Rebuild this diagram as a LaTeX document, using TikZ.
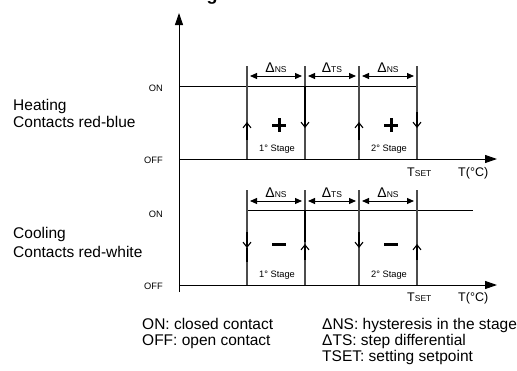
\documentclass[tikz,border=0pt]{standalone}
\usepackage{fontspec}
\setmainfont{Liberation Sans}
\usetikzlibrary{arrows.meta}
\newcommand\bigtxt{\fontsize{15.5}{16}\selectfont}
\newcommand\smalltxt{\fontsize{9.3}{10}\selectfont}
\newcommand\dimlab[1]{{\fontsize{14}{14}\selectfont Δ}{\fontsize{8.5}{8.5}\selectfont #1}}
\newcommand\tsetlab{{\fontsize{12.5}{13}\selectfont T}{\fontsize{8.5}{9}\selectfont SET}}
\begin{document}
\begin{tikzpicture}[x=1pt,y=-1pt,
  every node/.style={inner sep=0pt},
  axis/.style={line width=1pt,-{Triangle[length=12pt,width=8pt]}},
  onl/.style={line width=1pt},
  vline/.style={line width=1.1pt,draw=black!70},
  heavy/.style={line width=1.8pt},
  barb/.style={line width=1.1pt,-{Straight Barb[length=5pt,width=8pt]}},
  dim/.style={line width=1pt,{Triangle[length=7pt,width=6pt]}-{Triangle[length=7pt,width=6pt]}},
  sign/.style={line width=3pt}]
\useasboundingbox (0,0) rectangle (517,370);

% cropped title
\node[anchor=base] (title) at (212,0) {\fontsize{18}{18}\selectfont\bfseries g};

% axes
\coordinate (yb) at (179,292); \coordinate (yt) at (179,13);
\draw[axis] (yb) -- (yt);
\coordinate (h0) at (179,159); \coordinate (h1) at (497,159);
\draw[axis] (h0) -- (h1);
\coordinate (c0) at (179,285); \coordinate (c1) at (497,285);
\draw[axis] (c0) -- (c1);

% ---------- Heating ----------
\draw[onl] (179,86) -- (417,86);
\foreach \x in {247,305,359,417} \draw[vline] (\x,66) -- (\x,159);
\draw[heavy] (305,86) -- (305,126);
\draw[barb] (247,140) -- (247,122);
\draw[barb] (305,112) -- (305,128);
\draw[barb] (359,140) -- (359,122);
\draw[barb] (417,112) -- (417,128);
\draw[dim] (250,76) -- (302,76);
\draw[dim] (308,76) -- (356,76);
\draw[dim] (362,76) -- (414,76);
\node[anchor=base] (hd1) at (276,72) {\dimlab{NS}};
\node[anchor=base] (hd2) at (332,72) {\dimlab{TS}};
\node[anchor=base] (hd3) at (388,72) {\dimlab{NS}};
\draw[sign] (272,125) -- (286,125) (279,118) -- (279,132);
\draw[sign] (384,125) -- (398,125) (391,118) -- (391,132);
\node[anchor=base] (hs1) at (277,151) {\smalltxt 1° Stage};
\node[anchor=base] (hs2) at (389,151) {\smalltxt 2° Stage};
\node[anchor=base west] (ht) at (407,176.5) {\tsetlab};
\node[anchor=base west] (hT) at (458,176.5) {\fontsize{12.5}{13}\selectfont T(°C)};

% ---------- Cooling ----------
\draw[onl] (247,210) -- (473,210);
\foreach \x in {247,305,359,417} \draw[vline] (\x,190) -- (\x,285);
\draw[heavy] (305,210) -- (305,242);
\draw[heavy] (247,248) -- (247,262);
\draw[barb] (247,232) -- (247,248);
\draw[barb] (305,260) -- (305,244);
\draw[barb] (359,232) -- (359,248);
\draw[barb] (417,260) -- (417,244);
\draw[dim] (250,201) -- (302,201);
\draw[dim] (308,201) -- (356,201);
\draw[dim] (362,201) -- (414,201);
\node[anchor=base] (cd1) at (276,197) {\dimlab{NS}};
\node[anchor=base] (cd2) at (332,197) {\dimlab{TS}};
\node[anchor=base] (cd3) at (388,197) {\dimlab{NS}};
\draw[sign] (272,244) -- (286,244);
\draw[sign] (384,244) -- (398,244);
\node[anchor=base] (cs1) at (277,277) {\smalltxt 1° Stage};
\node[anchor=base] (cs2) at (389,277) {\smalltxt 2° Stage};
\node[anchor=base west] (ct) at (407,301.5) {\tsetlab};
\node[anchor=base west] (cT) at (458,301.5) {\fontsize{12.5}{13}\selectfont T(°C)};

% ---------- left labels ----------
\node[anchor=east] (on1) at (163,88) {\smalltxt ON};
\node[anchor=east] (off1) at (163,160) {\smalltxt OFF};
\node[anchor=east] (on2) at (163,214) {\smalltxt ON};
\node[anchor=east] (off2) at (163,286) {\smalltxt OFF};
\node[anchor=base west] (heat) at (13,110) {\bigtxt Heating};
\node[anchor=base west] (heatc) at (13,127) {\bigtxt Contacts red-blue};
\node[anchor=base west] (cool) at (13,238) {\bigtxt Cooling};
\node[anchor=base west] (coolc) at (13,257) {\bigtxt Contacts red-white};

% ---------- legend ----------
\node[anchor=base west] (l1) at (142,329) {\bigtxt ON: closed contact};
\node[anchor=base west] (l2) at (142,345) {\bigtxt OFF: open contact};
\node[anchor=base west] (l3) at (322,329) {\bigtxt ΔNS: hysteresis in the stage};
\node[anchor=base west] (l4) at (322,345) {\bigtxt ΔTS: step differential};
\node[anchor=base west] (l5) at (322,361) {\bigtxt TSET: setting setpoint};
\end{tikzpicture}
\end{document}
